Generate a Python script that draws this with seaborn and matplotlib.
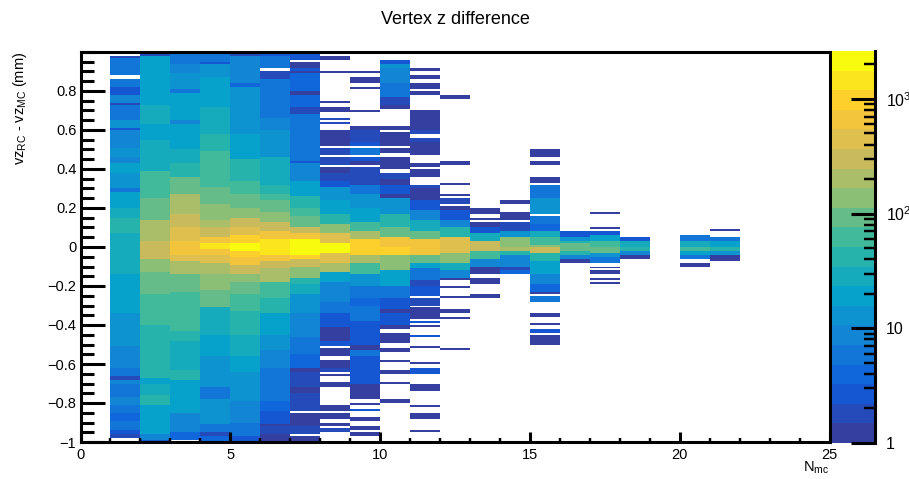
import numpy as np
import pandas as pd
import matplotlib
matplotlib.use("Agg")
import matplotlib.pyplot as plt
from matplotlib.colors import LinearSegmentedColormap, LogNorm
from matplotlib.ticker import LogLocator, NullFormatter, MultipleLocator
import seaborn as sns

TITLE = "Vertex z difference"
X_TICKS = [0, 5, 10, 15, 20, 25]
Y_TICKS = [-1, -0.8, -0.6, -0.4, -0.2, 0, 0.2, 0.4, 0.6, 0.8]
Y_LABELS = ["\u22121", "\u22120.8", "\u22120.6", "\u22120.4", "\u22120.2", "0", "0.2", "0.4", "0.6", "0.8"]
CB_TICKS = [1, 10, 100, 1000]
CB_LABELS = ["1", "10", r"$\mathregular{10^{2}}$", r"$\mathregular{10^{3}}$"]
Z_MIN, Z_MAX = 1, 2620
PALETTE = ["#353fa0", "#0f5cdd", "#1481d6", "#06a4ca", "#2eb7a4", "#87bf77", "#d1bb59", "#fec832", "#f9fb0e"]

# Each list: (vz low, vz high, entries) bands, one list per N_mc column
n1 = [(-.985,-.96,2),(-.96,-.945,3),(-.945,-.89,5),(-.89,-.855,4),(-.855,-.815,6),(-.805,-.77,8),(-.77,-.745,5),(-.745,-.70,6),(-.70,-.665,8),(-.675,-.66,2),(-.66,-.615,7),(-.615,-.555,9),(-.555,-.51,8),(-.51,-.40,12),(-.40,-.34,15),(-.34,-.22,20),(-.22,-.135,18),(-.135,-.025,28),(-.025,0,30),
      (0,.07,30),(.07,.15,35),(.15,.2,28),(.2,.285,18),(.285,.3,6),(.3,.375,15),(.375,.43,17),(.43,.455,10),(.455,.51,14),(.51,.6,10),(.6,.61,3),(.61,.65,12),(.65,.73,7),(.73,.74,2),(.74,.78,8),(.78,.82,3),(.82,.86,7),(.88,.97,7),(.97,.98,2)]
n2 = [(-1,-.99,3),(-.99,-.96,9),(-.96,-.9,17),(-.9,-.81,22),(-.81,-.76,45),(-.76,-.70,33),(-.70,-.67,22),(-.67,-.565,35),(-.565,-.48,48),(-.48,-.4,40),(-.4,-.24,60),(-.24,-.13,80),(-.13,-.06,150),(-.06,0,260),
      (0,.035,260),(.035,.135,170),(.135,.19,90),(.19,.255,110),(.255,.39,75),(.39,.55,30),(.55,.63,22),(.63,.73,26),(.73,.94,20),(.94,.98,16),(.98,1,2)]
n3 = [(-.99,-.95,4),(-.95,-.855,8),(-.855,-.75,16),(-.75,-.68,22),(-.68,-.63,36),(-.63,-.51,28),(-.51,-.48,33),(-.48,-.43,45),(-.43,-.3,55),(-.3,-.23,75),(-.23,-.145,110),(-.145,-.07,200),(-.07,-.035,400),(-.035,0,600),
      (0,.035,560),(.035,.095,450),(.095,.17,280),(.17,.265,180),(.265,.34,100),(.34,.36,80),(.36,.43,45),(.43,.5,30),(.5,.63,22),(.63,.65,10),(.65,.79,16),(.79,.81,6),(.81,.89,12),(.89,.94,9),(.94,.99,6)]
n4 = [(-1,-.975,4),(-.975,-.95,2),(-.95,-.905,5),(-.905,-.78,12),(-.78,-.72,6),(-.72,-.65,14),(-.65,-.555,15),(-.555,-.45,18),(-.45,-.375,25),(-.375,-.31,30),(-.31,-.22,80),(-.22,-.145,120),(-.145,-.085,170),(-.085,-.04,450),(-.04,-.01,800),(-.01,0,1300),
      (0,.025,1300),(.025,.05,700),(.05,.1,340),(.1,.145,220),(.145,.22,130),(.22,.31,110),(.31,.435,55),(.435,.49,75),(.49,.58,35),(.58,.72,24),(.72,.87,16),(.87,.935,11),(.935,.95,3),(.95,.99,5)]
n5 = [(-1,-.975,3),(-.975,-.94,5),(-.94,-.9,7),(-.9,-.785,10),(-.785,-.725,12),(-.725,-.64,14),(-.64,-.555,17),(-.555,-.45,25),(-.45,-.33,36),(-.33,-.24,55),(-.24,-.18,90),(-.18,-.135,150),(-.135,-.09,260),(-.09,-.05,550),(-.05,-.025,1100),(-.025,0,1900),
      (0,.025,1900),(.025,.06,1000),(.06,.1,520),(.1,.15,270),(.15,.2,130),(.2,.27,100),(.27,.34,60),(.34,.45,35),(.45,.58,17),(.58,.65,12),(.65,.825,14),(.825,.84,4),(.84,.98,10),(.98,1,2)]
n6 = [(-1,-.965,1),(-.965,-.915,2),(-.915,-.905,1),(-.905,-.84,3),(-.84,-.785,4),(-.785,-.7,5),(-.7,-.625,7),(-.625,-.53,10),(-.53,-.445,14),(-.445,-.335,22),(-.335,-.255,45),(-.255,-.18,70),(-.18,-.11,170),(-.11,-.07,350),(-.07,-.035,700),(-.035,0,1500),
      (0,.04,1500),(.04,.075,650),(.075,.13,300),(.13,.18,160),(.18,.24,110),(.24,.275,60),(.275,.325,40),(.325,.455,26),(.455,.53,15),(.53,.6,12),(.6,.665,10),(.665,.8,7),(.8,.865,6),(.865,.905,2),(.915,.975,7),(.985,1,3)]
n7 = [(-1,-.97,1),(-.96,-.92,2),(-.915,-.855,1),(-.84,-.75,2),(-.75,-.72,1),(-.72,-.64,2),(-.64,-.615,1),(-.615,-.545,4),(-.545,-.46,6),(-.46,-.335,10),(-.335,-.24,14),(-.24,-.19,25),(-.19,-.155,40),(-.155,-.1,120),(-.1,-.06,350),(-.06,-.04,1000),(-.04,0,2400),
      (0,.04,2400),(.04,.07,800),(.07,.1,300),(.1,.155,110),(.155,.205,70),(.205,.26,45),(.26,.34,16),(.34,.43,8),(.43,.445,3),(.445,.57,5),(.57,.615,7),(.615,.675,5),(.675,.725,2),(.725,.785,4),(.785,.795,1),(.795,.89,4),(.89,.905,1),(.905,.925,3),(.925,.95,1),(.955,.99,3)]
n8 = [(-.95,-.925,2),(-.915,-.895,1),(-.88,-.855,1),(-.84,-.81,1),(-.72,-.69,1),(-.665,-.65,1),(-.64,-.625,2),(-.615,-.58,1),(-.555,-.52,1),(-.51,-.48,3),(-.48,-.41,1),(-.41,-.335,3),(-.335,-.275,6),(-.275,-.18,10),(-.18,-.13,20),(-.13,-.085,180),(-.085,-.03,500),(-.03,0,2000),
      (0,.025,1800),(.025,.07,400),(.07,.12,120),(.12,.17,45),(.17,.24,22),(.24,.31,12),(.31,.34,3),(.34,.375,2),(.375,.41,1),(.42,.46,2),(.47,.51,2),(.52,.555,1),(.565,.605,1),(.615,.625,1),(.63,.645,2),(.65,.665,2),(.69,.715,1),(.74,.75,1),(.775,.785,1),(.89,.905,1),(.965,.98,1)]
n9 = [(-.975,-.95,1),(-.94,-.92,1),(-.89,-.87,1),(-.84,-.83,3),(-.805,-.795,1),(-.78,-.7,1),(-.7,-.565,3),(-.565,-.53,6),(-.53,-.495,1),(-.495,-.375,3),(-.375,-.3,7),(-.3,-.265,4),(-.265,-.205,7),(-.205,-.135,15),(-.135,-.085,60),(-.085,-.04,200),(-.04,0,1000),
      (0,.04,1000),(.04,.085,200),(.085,.13,60),(.13,.205,20),(.205,.275,12),(.275,.325,5),(.325,.37,2),(.37,.41,2),(.415,.44,1),(.44,.465,3),(.47,.51,5),(.515,.54,3),(.545,.595,2),(.6,.62,1),(.695,.705,1),(.805,.815,1),(.845,.87,1),(.89,.9,1)]
n10 = [(-.795,-.78,1),(-.705,-.695,1),(-.65,-.63,1),(-.59,-.58,1),(-.535,-.525,1),(-.49,-.435,1),(-.42,-.4,1),(-.4,-.335,3),(-.335,-.315,1),(-.315,-.255,3),(-.255,-.205,7),(-.205,-.12,20),(-.12,-.04,130),(-.04,0,900),
       (0,.05,700),(.05,.1,110),(.1,.17,40),(.17,.255,15),(.255,.275,1),(.275,.325,3),(.325,.35,1),(.35,.38,2),(.395,.465,1),(.485,.51,1),(.515,.555,1),(.565,.59,1),(.595,.62,1),(.71,.73,1),(.73,.77,2),(.77,.84,5),(.84,.925,10),(.925,.94,14),(.94,.96,3)]
n11 = [(-.955,-.94,1),(-.875,-.85,1),(-.82,-.805,1),(-.74,-.725,1),(-.72,-.7,1),(-.65,-.625,3),(-.605,-.59,1),(-.525,-.51,1),(-.46,-.445,3),(-.41,-.395,1),(-.39,-.375,3),(-.37,-.31,1),(-.3,-.26,2),(-.25,-.205,3),(-.205,-.17,2),(-.17,-.135,7),(-.135,-.11,5),(-.11,-.085,20),(-.085,-.04,100),(-.04,0,800),
       (0,.04,650),(.04,.085,90),(.085,.135,25),(.135,.19,10),(.19,.24,3),(.24,.3,1),(.3,.325,2),(.355,.405,1),(.41,.43,1),(.47,.495,1),(.5,.515,1),(.52,.535,1),(.54,.555,2),(.575,.6,2),(.6,.655,1),(.66,.68,1),(.685,.7,1),(.785,.8,1),(.81,.835,1),(.865,.88,1),(.905,.915,1)]
n12 = [(-.53,-.52,1),(-.37,-.36,1),(-.335,-.32,1),(-.265,-.25,1),(-.21,-.195,1),(-.17,-.16,1),(-.155,-.115,8),(-.115,-.08,25),(-.08,-.03,120),(-.03,0,500),
       (0,.05,480),(.05,.095,50),(.095,.145,10),(.145,.19,3),(.19,.21,1),(.215,.255,2),(.26,.275,1),(.315,.33,1),(.425,.435,1),(.765,.78,1)]
n13 = [(-.26,-.245,1),(-.19,-.165,1),(-.135,-.095,1),(-.095,-.06,10),(-.06,-.025,60),(-.025,0,350),
       (0,.035,300),(.035,.07,25),(.07,.1,3),(.1,.13,1),(.135,.15,1),(.17,.195,1)]
n14 = [(-.14,-.12,4),(-.115,-.095,2),(-.095,-.045,10),(-.045,-.02,45),(-.02,0,170),
       (0,.05,150),(.05,.085,15),(.085,.13,2),(.145,.185,1),(.22,.24,1)]
n15 = [(-.5,-.485,1),(-.48,-.445,1),(-.44,-.42,3),(-.4,-.39,1),(-.36,-.345,1),(-.28,-.25,5),(-.245,-.23,1),(-.23,-.19,4),(-.19,-.135,9),(-.135,-.07,18),(-.07,-.03,45),(-.03,0,300),
       (0,.015,140),(.015,.05,60),(.05,.085,30),(.085,.125,4),(.125,.165,6),(.17,.21,12),(.21,.255,15),(.255,.29,6),(.29,.32,7),(.33,.365,1),(.425,.435,1),(.46,.475,1),(.48,.5,1)]
n16 = [(-.085,-.065,1),(-.065,-.04,8),(-.04,-.02,35),(-.02,0,100),
       (0,.02,100),(.02,.035,40),(.035,.05,12),(.05,.085,3)]
n17 = [(-.19,-.175,1),(-.17,-.155,1),(-.14,-.125,1),(-.11,-.095,1),(-.085,-.05,6),(-.05,-.03,15),(-.03,0,80),
       (0,.035,60),(.035,.06,20),(.06,.085,3),(.09,.105,1),(.17,.185,1)]
n18 = [(-.055,-.04,1),(-.04,-.02,8),(-.02,0,35),(0,.03,30),(.03,.05,3)]
n19 = []
n20 = [(-.105,-.08,1),(-.065,-.035,6),(-.035,-.02,20),(-.02,0,70),(0,.035,25),(.035,.06,6)]
n21 = [(-.07,-.045,1),(-.045,-.02,12),(-.02,0,45),(0,.035,22),(.035,.05,5),(.08,.09,1)]
COLUMNS = {1: n1, 2: n2, 3: n3, 4: n4, 5: n5, 6: n6, 7: n7, 8: n8, 9: n9, 10: n10, 11: n11,
           12: n12, 13: n13, 14: n14, 15: n15, 16: n16, 17: n17, 18: n18, 19: n19, 20: n20, 21: n21}

# Histogram of 25 N_mc bins by 200 vz bins of width 0.01 mm
grid = np.full((200, 25), np.nan)
for col, bands in COLUMNS.items():
    for lo, hi, count in bands:
        grid[int(round((lo + 1) * 100)):int(round((hi + 1) * 100)), col] = count
frame = pd.DataFrame(grid)

plt.rcParams["font.family"] = ["Liberation Sans", "DejaVu Sans"]
plt.rcParams["mathtext.fontset"] = "custom"
plt.rcParams["mathtext.rm"] = "Liberation Sans"
plt.rcParams["mathtext.default"] = "regular"

W, H = 909, 479
LW = 2.2
fig = plt.figure(figsize=(W / 100, H / 100), dpi=100)
ax = fig.add_axes([80.5 / W, 1 - 442 / H, 749 / W, 390 / H])
cax = fig.add_axes([832 / W, 1 - 443 / H, 43 / W, 392 / H])

cmap = LinearSegmentedColormap.from_list("bird", PALETTE, N=20)
sns.heatmap(frame, ax=ax, cbar_ax=cax, cmap=cmap, norm=LogNorm(Z_MIN, Z_MAX),
            xticklabels=False, yticklabels=False)

ax.set_xlim(0, 25)
ax.set_ylim(0, 200)
for s in ax.spines.values():
    s.set_visible(True)
    s.set_linewidth(LW)
    s.set_color("black")
ax.set_xticks(X_TICKS, [str(v) for v in X_TICKS])
ax.set_yticks([(v + 1) * 100 for v in Y_TICKS], Y_LABELS)
ax.xaxis.set_minor_locator(MultipleLocator(1))
ax.yaxis.set_minor_locator(MultipleLocator(5))
ax.tick_params(axis="x", which="major", direction="in", length=7.2, width=LW, labelsize=10.5, pad=4, top=False)
ax.tick_params(axis="x", which="minor", direction="in", length=3, width=LW * .8, top=False)
ax.tick_params(axis="y", which="major", direction="in", length=17, width=LW, labelsize=10.5, pad=3, right=False)
ax.tick_params(axis="y", which="minor", direction="in", length=9, width=LW, right=False)
ax.set_xlabel("")
ax.set_ylabel("")

cax.yaxis.set_ticks_position("right")
cax.set_yticks(CB_TICKS, CB_LABELS)
cax.yaxis.set_minor_locator(LogLocator(base=10, subs=range(2, 10)))
cax.yaxis.set_minor_formatter(NullFormatter())
cax.tick_params(axis="y", which="major", direction="in", length=17, width=LW, labelsize=11.5, pad=8)
cax.tick_params(axis="y", which="minor", direction="in", length=8, width=LW * .8)
for name, s in cax.spines.items():
    s.set_visible(name == "right")
    s.set_linewidth(LW)
    s.set_color("black")
cax.set_ylim(Z_MIN, Z_MAX)

fig.text(455 / W, 1 - 20 / H, TITLE, ha="center", va="center", fontsize=13)
fig.text(20 / W, 1 - 52 / H, r"vz$_{RC}$ - vz$_{MC}$ (mm)", rotation=90, ha="center", va="top", fontsize=10.5)
fig.text(829 / W, 1 - 468 / H, r"N$_{mc}$", ha="right", va="center", fontsize=10.5)

fig.savefig("out.png", dpi=100)
